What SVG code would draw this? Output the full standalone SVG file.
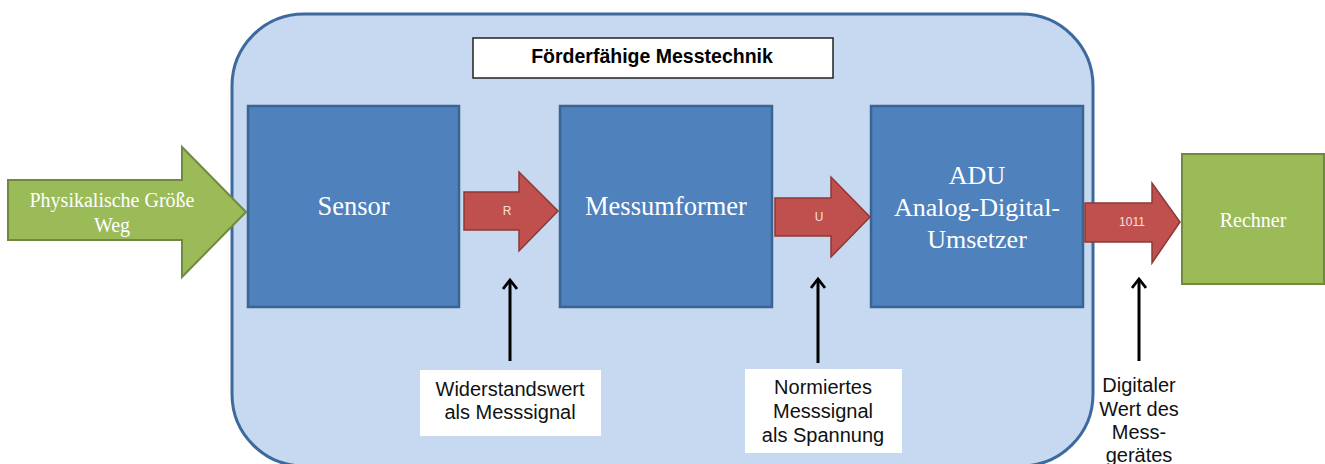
<svg xmlns="http://www.w3.org/2000/svg" width="1325" height="464" viewBox="0 0 1325 464">
<defs>
<style>
.blk{fill:#4f81bd;stroke:#3a6593;stroke-width:2.5}
.green{fill:#9bbb59;stroke:#71893f;stroke-width:2}
.red{fill:#c0504d;stroke:#8c3836;stroke-width:1.5}
.serif{font-family:"Liberation Serif","Times New Roman",serif;fill:#ffffff;text-anchor:middle}
.sans{font-family:"Liberation Sans",Arial,sans-serif;text-anchor:middle}
.lbl{font-size:20px;fill:#111111}
.small{font-size:12px;fill:#f5e0df}
.up{stroke:#000000;stroke-width:3;fill:none}
</style>
<marker id="chev" viewBox="0 0 14 16" refX="11" refY="8" markerWidth="14" markerHeight="16" markerUnits="userSpaceOnUse" orient="auto">
<path d="M2,1 L11,8 L2,15" fill="none" stroke="#000" stroke-width="2.8" stroke-linejoin="miter"/>
</marker>
</defs>
<rect width="1325" height="464" fill="#ffffff"/>
<g id="container">
<rect x="232" y="14" width="861" height="452" rx="72" ry="72" fill="#c6d9f0" stroke="#3d6a9e" stroke-width="3"/>
</g>
<g id="title">
<rect x="473" y="38" width="360" height="40" fill="#ffffff" stroke="#222222" stroke-width="1.5"/>
<text x="652" y="63" class="sans" font-size="19.5" font-weight="bold" fill="#000000">Förderfähige Messtechnik</text>
</g>
<g id="input">
<polygon class="green" points="8,180 182,180 182,147 246,212 182,277 182,240 8,240"/>
<text class="serif" font-size="20" x="112" y="207">Physikalische Größe</text>
<text class="serif" font-size="20" x="112" y="232">Weg</text>
</g>
<g id="sensor">
<rect class="blk" x="248" y="106" width="211" height="201"/>
<text class="serif" font-size="26.5" x="353.5" y="215">Sensor</text>
</g>
<g id="messumformer">
<rect class="blk" x="560" y="106" width="212" height="201"/>
<text class="serif" font-size="26.5" x="666" y="215">Messumformer</text>
</g>
<g id="adu">
<rect class="blk" x="871" y="106" width="212" height="201"/>
<text class="serif" font-size="26" x="977" y="184">ADU</text>
<text class="serif" font-size="26" x="977" y="216">Analog-Digital-</text>
<text class="serif" font-size="26" x="977" y="248">Umsetzer</text>
</g>
<g id="rechner">
<rect class="green" x="1182" y="154" width="142" height="130"/>
<text class="serif" font-size="20" x="1253" y="227">Rechner</text>
</g>
<g id="connectors">
<g id="arrow-R">
<polygon class="red" points="464,192 519,192 519,172 558,211 519,251 519,230 464,230"/>
<text class="sans small" x="507" y="215">R</text>
</g>
<g id="arrow-U">
<polygon class="red" points="775,198 831,198 831,177 870,217 831,257 831,236 775,236"/>
<text class="sans small" x="819" y="221">U</text>
</g>
<g id="arrow-1011">
<polygon class="red" points="1085,203 1152,203 1152,183 1180,222 1152,263 1152,242 1085,242"/>
<text class="sans small" x="1132" y="226">1011</text>
</g>
<line class="up" x1="510" y1="361" x2="510" y2="280" marker-end="url(#chev)"/>
<line class="up" x1="818" y1="363" x2="818" y2="279" marker-end="url(#chev)"/>
<line class="up" x1="1139" y1="361" x2="1139" y2="279" marker-end="url(#chev)"/>
</g>
<g id="label-widerstand">
<rect x="420" y="370" width="181" height="66" fill="#ffffff"/>
<text class="sans lbl" x="510" y="396">Widerstandswert</text>
<text class="sans lbl" x="510" y="419">als Messsignal</text>
</g>
<g id="label-normiert">
<rect x="745" y="369" width="157" height="84" fill="#ffffff"/>
<text class="sans lbl" x="823" y="394">Normiertes</text>
<text class="sans lbl" x="823" y="418">Messsignal</text>
<text class="sans lbl" x="823" y="442">als Spannung</text>
</g>
<g id="label-digital">
<text class="sans lbl" x="1139" y="392">Digitaler</text>
<text class="sans lbl" x="1139" y="416">Wert des</text>
<text class="sans lbl" x="1139" y="439">Mess-</text>
<text class="sans lbl" x="1139" y="462">gerätes</text>
</g>
</svg>
